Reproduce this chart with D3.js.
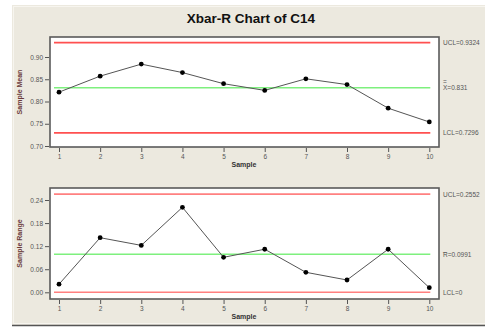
<!DOCTYPE html>
<html><head><meta charset="utf-8">
<script src="https://cdn.jsdelivr.net/npm/d3@7"></script>
<style>body{margin:0;background:#fff}svg{display:block}</style>
</head><body><svg id="c" width="485" height="328"></svg>
<script>
const samples = [1,2,3,4,5,6,7,8,9,10];
const means = [0.821,0.857,0.884,0.865,0.840,0.825,0.851,0.838,0.785,0.754];
const ranges = [0.021,0.142,0.122,0.221,0.091,0.112,0.052,0.032,0.112,0.012];
const meanTicks = [0.70,0.75,0.80,0.85,0.90];
const rangeTicks = [0.00,0.06,0.12,0.18,0.24];
const meanLimits = {ucl:0.9324, cl:0.831, lcl:0.7296};
const rangeLimits = {ucl:0.2552, cl:0.0991, lcl:0};
const meanLabels = ["UCL=0.9324","X=0.831","LCL=0.7296"];
const rangeLabels = ["UCL=0.2552","R=0.0991","LCL=0"];
const title = "Xbar-R Chart of C14";

const svg = d3.select("#c");
svg.append("rect").attr("x",12).attr("y",5).attr("width",473).attr("height",320).attr("fill","#ece9df");
svg.append("rect").attr("x",13.5).attr("y",6.5).attr("width",480).attr("height",317).attr("fill","none").attr("stroke","#f7f5ef").attr("stroke-width",1);
svg.append("line").attr("x1",12).attr("x2",485).attr("y1",325.5).attr("y2",325.5).attr("stroke","#555").attr("stroke-width",1.5);

svg.append("text").attr("x",251).attr("y",23).attr("text-anchor","middle")
  .attr("font-family","Liberation Sans, Arial, sans-serif").attr("font-weight","bold").attr("font-size",13.5)
  .attr("fill","#111").text(title);

const x = d3.scaleLinear().domain([1,10]).range([59,429.3]);
const font = "Liberation Sans, Arial, sans-serif";

function panel(cfg){
  const {top,bottom,y,data,ticks,lim,labels,ylab,redColor,fmt,barType} = cfg;
  const L=50,R=439;
  svg.append("rect").attr("x",L).attr("y",top).attr("width",R-L).attr("height",bottom-top)
    .attr("fill","#fff").attr("stroke","#5a5a5a").attr("stroke-width",1.6);
  // y axis
  const ya = d3.axisLeft(y).tickValues(ticks).tickFormat(fmt).tickSize(4).tickPadding(2);
  const gy = svg.append("g").attr("transform",`translate(${L-1},0)`).call(ya);
  gy.select(".domain").remove();
  gy.selectAll("line").attr("stroke","#555");
  gy.selectAll("text").attr("font-family",font).attr("font-size",6.5).attr("fill","#555");
  // x axis
  const xa = d3.axisBottom(x).tickValues(samples).tickFormat(d3.format("d")).tickSize(4).tickPadding(2);
  const gx = svg.append("g").attr("transform",`translate(0,${bottom+1})`).call(xa);
  gx.select(".domain").remove();
  gx.selectAll("line").attr("stroke","#555");
  gx.selectAll("text").attr("font-family",font).attr("font-size",6.5).attr("fill","#555");
  svg.append("text").attr("x",244).attr("y",bottom+20).attr("text-anchor","middle")
    .attr("font-family",font).attr("font-weight","bold").attr("font-size",7).attr("fill","#333").text("Sample");
  svg.append("text").attr("transform",`translate(22,${(top+bottom)/2}) rotate(-90)`).attr("text-anchor","middle")
    .attr("font-family",font).attr("font-weight","bold").attr("font-size",7).attr("fill","#6a3a3a").text(ylab);
  // limit lines
  const lx1 = x(1)-5, lx2 = x(10)+1;
  [["ucl",redColor],["cl","#7ef07e"],["lcl",redColor]].forEach(([k,c])=>{
    svg.append("line").attr("x1",lx1).attr("x2",lx2).attr("y1",y(lim[k])).attr("y2",y(lim[k]))
      .attr("stroke",c).attr("stroke-width",1.6);
  });
  // data line
  svg.append("path").datum(data).attr("fill","none").attr("stroke","#555").attr("stroke-width",1)
    .attr("d",d3.line().x((d,i)=>x(samples[i])).y(d=>y(d)));
  svg.selectAll(null).data(data).enter().append("circle")
    .attr("cx",(d,i)=>x(samples[i])).attr("cy",d=>y(d)).attr("r",2.4).attr("fill","#000");
  // right labels
  const keys=["ucl","cl","lcl"];
  keys.forEach((k,i)=>{
    const t = svg.append("text").attr("x",443).attr("y",y(lim[k])+2.5)
      .attr("font-family",font).attr("font-size",6.5).attr("fill","#555").text(labels[i]);
    if(k==="cl"){
      svg.append("text").attr("x",443).attr("y",y(lim[k])-3.5)
        .attr("font-family",font).attr("font-size",6.5).attr("fill","#555").text(barType);
    }
  });
}

panel({top:37,bottom:147,y:d3.scaleLinear().domain([0.70,0.90]).range([146,57]),
  data:means,ticks:meanTicks,lim:meanLimits,labels:meanLabels,ylab:"Sample Mean",
  redColor:"#ff5050",fmt:d3.format(".2f"),barType:"="});
panel({top:188,bottom:299,y:d3.scaleLinear().domain([0,0.24]).range([292.3,200]),
  data:ranges,ticks:rangeTicks,lim:rangeLimits,labels:rangeLabels,ylab:"Sample Range",
  redColor:"#ff8080",fmt:d3.format(".2f"),barType:"_"});
</script></body></html>
